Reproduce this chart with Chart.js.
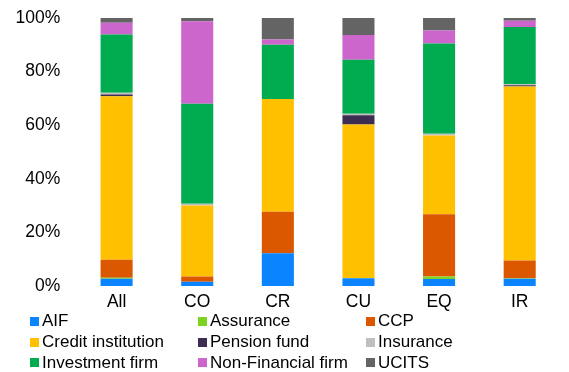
<!DOCTYPE html>
<html>
<head>
<meta charset="utf-8">
<script src="https://cdn.jsdelivr.net/npm/chart.js@4/dist/chart.umd.min.js"></script>
<style>
  html, body { margin: 0; padding: 0; background: #fff; }
  #wrap { position: relative; width: 569px; height: 372px; overflow: hidden; }
  #c { position: absolute; left: 0; top: 0; }
  #legend {
    position: absolute; left: 30px; top: 311px;
    display: grid; grid-template-columns: 168px 168px 168px;
    font-family: "Liberation Sans", Arial, sans-serif; font-size: 17px; color: #000;
  }
  .item { display: flex; align-items: center; height: 20.7px; white-space: nowrap; }
  .sw { width: 9px; height: 9px; margin-right: 3px; flex: none; }
</style>
</head>
<body>
<div id="wrap">
  <canvas id="c" width="569" height="312"></canvas>
  <div id="legend"></div>
</div>
<script>
// Share of exposures by counterparty type, per asset class (percent)
const categories = ["All", "CO", "CR", "CU", "EQ", "IR"];

const seriesNames = ["AIF", "Assurance", "CCP", "Credit institution", "Pension fund",
                     "Insurance", "Investment firm", "Non-Financial firm", "UCITS"];

const aif          = [2.7, 1.6, 12.2, 2.9, 2.6, 2.7];
const assurance    = [0.4, 0.0, 0.0, 0.0, 0.9, 0.2];
const ccp          = [6.7, 1.9, 15.5, 0.0, 23.3, 6.6];
const creditInst   = [61.0, 26.5, 42.1, 57.4, 29.4, 64.9];
const pensionFund  = [0.7, 0.0, 0.0, 3.4, 0.0, 0.5];
const insurance    = [0.6, 0.7, 0.0, 0.6, 0.6, 0.5];
const investFirm   = [21.7, 37.3, 20.2, 20.1, 33.7, 21.2];
const nonFinancial = [4.4, 30.8, 2.0, 9.3, 4.8, 2.4];
const ucits        = [1.8, 1.2, 8.0, 6.3, 4.7, 1.0];

const yTicks = [0, 20, 40, 60, 80, 100];

const seriesValues = [aif, assurance, ccp, creditInst, pensionFund,
                      insurance, investFirm, nonFinancial, ucits];
const seriesColors = ["#0A84FF", "#7ED321", "#DB5800", "#FFC000", "#3D2E51",
                      "#BFBFBF", "#00AC4F", "#CC66CC", "#646464"];

const FONT = "'Liberation Sans', Arial, sans-serif";

new Chart(document.getElementById("c"), {
  type: "bar",
  data: {
    labels: categories,
    datasets: seriesNames.map((name, i) => ({
      label: name,
      data: seriesValues[i],
      backgroundColor: seriesColors[i],
      borderWidth: 0,
      categoryPercentage: 0.8,
      barPercentage: 0.497
    }))
  },
  options: {
    responsive: false,
    animation: false,
    layout: { padding: { top: 18, right: 9, left: 0, bottom: 0 } },
    plugins: { legend: { display: false }, tooltip: { enabled: false }, title: { display: false } },
    scales: {
      x: {
        stacked: true,
        grid: { display: false, drawTicks: false },
        border: { display: false },
        ticks: { color: "#000", font: { family: FONT, size: 17.5 }, padding: 6 },
        afterFit: (s) => { s.height = 26; s.paddingLeft = 0; s.paddingRight = 0; }
      },
      y: {
        stacked: true,
        min: 0, max: 100,
        grid: { display: false, drawTicks: false },
        border: { display: false },
        afterBuildTicks: (s) => { s.ticks = yTicks.map(v => ({ value: v })); },
        ticks: {
          color: "#000",
          font: { family: FONT, size: 17.5 },
          padding: 16,
          callback: (v) => v + "%"
        },
        afterFit: (s) => { s.width = 76.3; s.paddingTop = 0; s.paddingBottom = 0; }
      }
    }
  }
});

// Three-column legend under the chart
const legend = document.getElementById("legend");
seriesNames.forEach((name, i) => {
  const it = document.createElement("div");
  it.className = "item";
  const sw = document.createElement("span");
  sw.className = "sw";
  sw.style.background = seriesColors[i];
  const tx = document.createElement("span");
  tx.textContent = name;
  it.appendChild(sw);
  it.appendChild(tx);
  legend.appendChild(it);
});
</script>
</body>
</html>
